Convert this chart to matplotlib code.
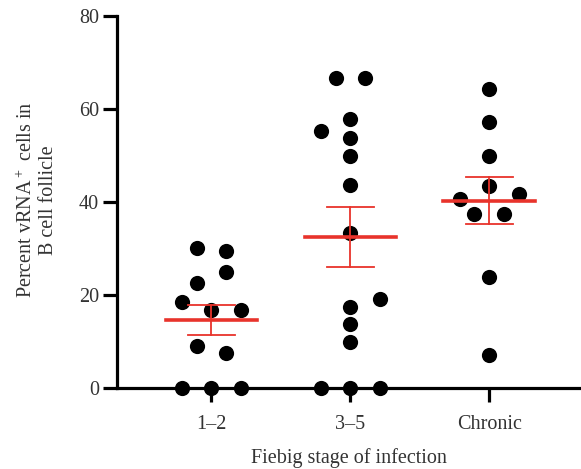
import numpy as np
import matplotlib
matplotlib.use("Agg")
import matplotlib.pyplot as plt

plt.rcParams['font.family'] = ['Liberation Serif', 'DejaVu Serif']
plt.rcParams['mathtext.fontset'] = 'custom'
plt.rcParams['mathtext.rm'] = 'Liberation Serif'

groups = ['1\u20132', '3\u20135', 'Chronic']

# percent vRNA+ cells per follicle
fiebig_12 = [30.0, 29.3, 24.9, 22.6, 18.5, 16.7, 16.7, 9.0, 7.4, 0, 0, 0]
fiebig_35 = [66.5, 66.5, 57.8, 55.1, 53.6, 49.8, 43.6, 33.3, 19.1, 17.3,
             13.6, 9.9, 0, 0, 0]
chronic = [64.2, 57.1, 49.9, 43.4, 40.6, 41.7, 37.4, 37.4, 23.7, 7.0]

# horizontal slot of each dot in the swarm (in half dot widths)
slots_12 = [-1, 1, 1, -1, -2, 0, 2, -1, 1, -2, 0, 2]
slots_35 = [-1, 1, 0, -2, 0, 0, 0, 0, 2, 0, 0, 0, -2, 0, 2]
slots_ch = [0, 0, 0, 0, -2, 2, -1, 1, 0, 0]

data = [fiebig_12, fiebig_35, chronic]
slots = [slots_12, slots_35, slots_ch]

red = '#e8332b'
txt = '#333333'

fig = plt.figure(figsize=(5.81, 4.69), dpi=100)
ax = fig.add_axes([117/581, 81.3/469, 1 - 117/581, 372/469])

for i, (vals, sl) in enumerate(zip(data, slots)):
    vals = np.array(vals)
    xs = i + np.array(sl) * 0.107
    ax.scatter(xs, vals, s=120, color='black', zorder=3, clip_on=False,
               linewidths=0)
    m = vals.mean()
    sem = vals.std(ddof=1) / np.sqrt(len(vals))
    ax.plot([i - 0.33, i + 0.33], [m, m], color=red, lw=2.6, zorder=4)
    ax.plot([i, i], [m - sem, m + sem], color=red, lw=1.3, zorder=4)
    for y in (m - sem, m + sem):
        ax.plot([i - 0.17, i + 0.17], [y, y], color=red, lw=1.3, zorder=4)

ax.set_xlim(-0.68, 2.66)
ax.set_ylim(0, 80)
ax.set_yticks([0, 20, 40, 60, 80])
ax.set_xticks([0, 1, 2])
ax.set_xticklabels(groups)

for side in ('top', 'right'):
    ax.spines[side].set_visible(False)
for side in ('left', 'bottom'):
    ax.spines[side].set_linewidth(2.3)
ax.tick_params(axis='both', width=2.3, length=10, labelsize=14.5,
               colors='black', labelcolor=txt)
ax.tick_params(axis='x', pad=10)
ax.tick_params(axis='y', pad=3)

ax.set_xlabel('Fiebig stage of infection', fontsize=14.5, color=txt,
              labelpad=10)
fig.text(37/581, 1 - 200/469,
         'Percent vRNA$^+$ cells in\nB cell follicle',
         rotation=90, ha='center', va='center', fontsize=14.5,
         color=txt, linespacing=1.1)

fig.savefig('out.png', dpi=100)
